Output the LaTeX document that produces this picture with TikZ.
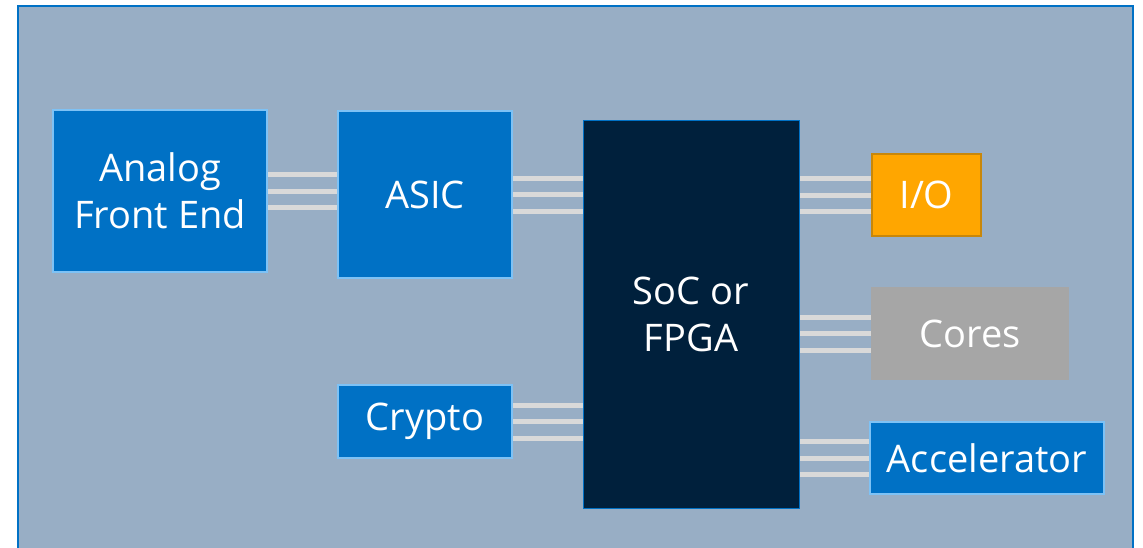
\documentclass[tikz,border=0pt]{standalone}
\usepackage{fontspec}
\setmainfont{Open Sans}
\usetikzlibrary{positioning,calc}
\definecolor{panelfill}{RGB}{152,174,197}
\definecolor{intelblue}{RGB}{0,113,197}
\definecolor{lightedge}{RGB}{126,194,245}
\definecolor{socnavy}{RGB}{0,32,60}
\definecolor{ioorange}{RGB}{255,166,0}
\definecolor{ioedge}{RGB}{200,135,10}
\definecolor{coregray}{RGB}{166,166,166}
\definecolor{busgray}{RGB}{217,217,217}

\begin{document}
\begin{tikzpicture}[x=1pt,y=-1pt,
    blk/.style={rectangle, inner sep=0pt, text=white, align=center,
                font=\fontsize{38}{47}\selectfont},
    blueblk/.style={blk, fill=intelblue, draw=lightedge, line width=1.5pt},
    bus/.style={busgray, line width=5pt}]
        \clip (0,0) rectangle (1143,547);
        \draw[intelblue, line width=2.5pt, fill=panelfill] (18,6) rectangle (1133,560);
        % blocks
        \node[blueblk, minimum width=214pt, minimum height=162pt] (afe) at (160,191) {Analog\\Front End};
        \node[blueblk, minimum width=174pt, minimum height=167pt] (asic) at (425,194.5) {ASIC};
        \node[blueblk, minimum width=174pt, minimum height=73pt] (crypto) at (425,421.5) {Crypto};
        \node[blk, fill=socnavy, draw=intelblue, line width=1pt, minimum width=216pt,
              minimum height=388pt] (soc) at (691,314) {SoC or\\FPGA};
        \node[blk, fill=ioorange, draw=ioedge, line width=1.5pt, minimum width=109pt,
              minimum height=82pt] (io) at (926.5,195) {I/O};
        \node[blk, fill=coregray, minimum width=198pt, minimum height=93pt] (cores) at (970,333.5) {Cores};
        \node[blueblk, minimum width=234pt, minimum height=72pt] (accel) at (987,458) {Accelerator};
        % three-wire buses
        \foreach \d in {-16.5,0,16.5}{
          \draw[bus] ($(afe.east)+(0,\d)$) -- ($(afe.east -| asic.west)+(0,\d)$);
          \draw[bus] ($(asic.east)+(0,\d)$) -- ($(asic.east -| soc.west)+(0,\d)$);
          \draw[bus] ($(crypto.east)+(0,\d)$) -- ($(crypto.east -| soc.west)+(0,\d)$);
          \foreach \n in {io,cores,accel}{
            \draw[bus] ($(\n.west)+(0,\d)$) -- ($(\n.west -| soc.east)+(0,\d)$);}
        }
\end{tikzpicture}
\end{document}
